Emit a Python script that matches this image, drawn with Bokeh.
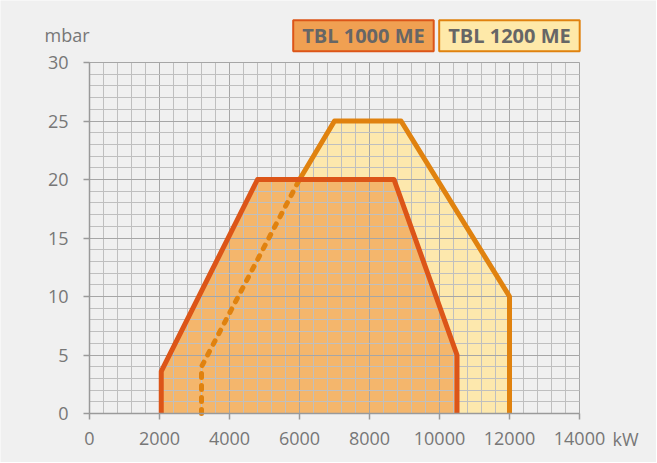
from bokeh.plotting import figure
from bokeh.models import Range1d, SingleIntervalTicker, Label
from bokeh.embed import file_html
from bokeh.resources import INLINE

# Data (kW, mbar)
tbl1000_x = [2050, 2050, 4800, 8700, 10500, 10500]
tbl1000_y = [0, 3.6, 20, 20, 5, 0]

tbl1200_x = [3200, 3200, 6000, 7000, 8900, 12000, 12000]
tbl1200_y = [0, 4, 20, 25, 25, 10, 0]

series_names = ["TBL 1000 ME", "TBL 1200 ME"]
x_bounds = (0, 14000)
y_bounds = (0, 30)
x_tick_interval = 2000
y_tick_interval = 5

FONT = "Open Sans"
BG = "#f0f0f0"
W, H = 656, 462
# frame geometry (pixels): x=0 at 89, 14000 at 579; y=0 at 413, 30 at 62
PX_X = 490 / 14000.0
PX_Y = 351 / 30.0

p = figure(width=W, height=H, output_backend="svg", toolbar_location=None,
           x_range=Range1d(-89 / PX_X, (W - 89) / PX_X),
           y_range=Range1d(-(H - 413) / PX_Y, 30 + 62 / PX_Y),
           min_border=0, background_fill_color=BG, border_fill_color=BG)
p.outline_line_color = None

# fills below the grid
f1200 = p.patch(tbl1200_x, tbl1200_y, fill_color="#fde8ad", line_color=None)
f1000 = p.patch(tbl1000_x, tbl1000_y, fill_color="#f4b66c", line_color=None)
f1200.level = "image"
f1000.level = "image"

# boundary lines
split = 3  # solid part of TBL 1200 starts at (6000, 20)
p.line(tbl1200_x[:split], tbl1200_y[:split], line_color="#e0820f", line_width=5,
       line_dash="4 8", line_cap="round")
p.line(tbl1200_x[split - 1:], tbl1200_y[split - 1:], line_color="#e0820f", line_width=5,
       line_join="round")
p.line(tbl1000_x, tbl1000_y, line_color="#dc5518", line_width=5, line_join="round")

# axes fixed at the data origin
xt = SingleIntervalTicker(interval=x_tick_interval, num_minor_ticks=5)
yt = SingleIntervalTicker(interval=y_tick_interval, num_minor_ticks=5)
p.xaxis.ticker = xt
p.yaxis.ticker = yt
p.xaxis.fixed_location = 0
p.yaxis.fixed_location = 0
p.xaxis.bounds = x_bounds
p.yaxis.bounds = y_bounds
for ax in (p.xaxis[0], p.yaxis[0]):
    ax.axis_line_color = "#9a9a9a"
    ax.axis_line_width = 1.5
    ax.major_tick_line_color = "#9a9a9a"
    ax.major_tick_line_width = 1.5
    ax.major_tick_out = 6
    ax.major_tick_in = 0
    ax.minor_tick_line_color = None
    ax.major_label_text_color = "#777777"
    ax.major_label_text_font = FONT
    ax.major_label_text_font_size = "18px"
p.xaxis.major_label_standoff = 12
p.yaxis.major_label_standoff = 15

p.xgrid.ticker = xt
p.ygrid.ticker = yt
p.xgrid.bounds = x_bounds
p.xgrid.cross_bounds = y_bounds
p.ygrid.bounds = y_bounds
p.ygrid.cross_bounds = x_bounds
for g in (p.xgrid[0], p.ygrid[0]):
    g.grid_line_color = "#a6a6a6"
    g.grid_line_width = 1
    g.minor_grid_line_color = "#bfbfbf"
    g.minor_grid_line_width = 1

# unit labels
p.add_layout(Label(x=-1286, y=32.39, text="mbar", text_font=FONT, text_font_size="18px",
                   text_color="#777777", text_align="left", text_baseline="alphabetic"))
p.add_layout(Label(x=14943, y=-2.14, text="kW", text_font=FONT, text_font_size="18px",
                   text_color="#777777", text_align="left", text_baseline="alphabetic"))

# legend boxes
pad = dict(left=9, right=9, top=2, bottom=2)
p.add_layout(Label(x=5820, y=32.29, text=series_names[0], text_font=FONT, text_font_size="20px",
                   text_font_style="bold", text_color="#666666", text_align="left",
                   text_baseline="middle", background_fill_color="#f0a052",
                   border_line_color="#dc5518", border_line_width=2, padding=pad))
p.add_layout(Label(x=9991, y=32.29, text=series_names[1], text_font=FONT, text_font_size="20px",
                   text_font_style="bold", text_color="#666666", text_align="left",
                   text_baseline="middle", background_fill_color="#fee9a9",
                   border_line_color="#e0820f", border_line_width=2, padding=pad))

open("out.html", "w").write(file_html(p, INLINE))
